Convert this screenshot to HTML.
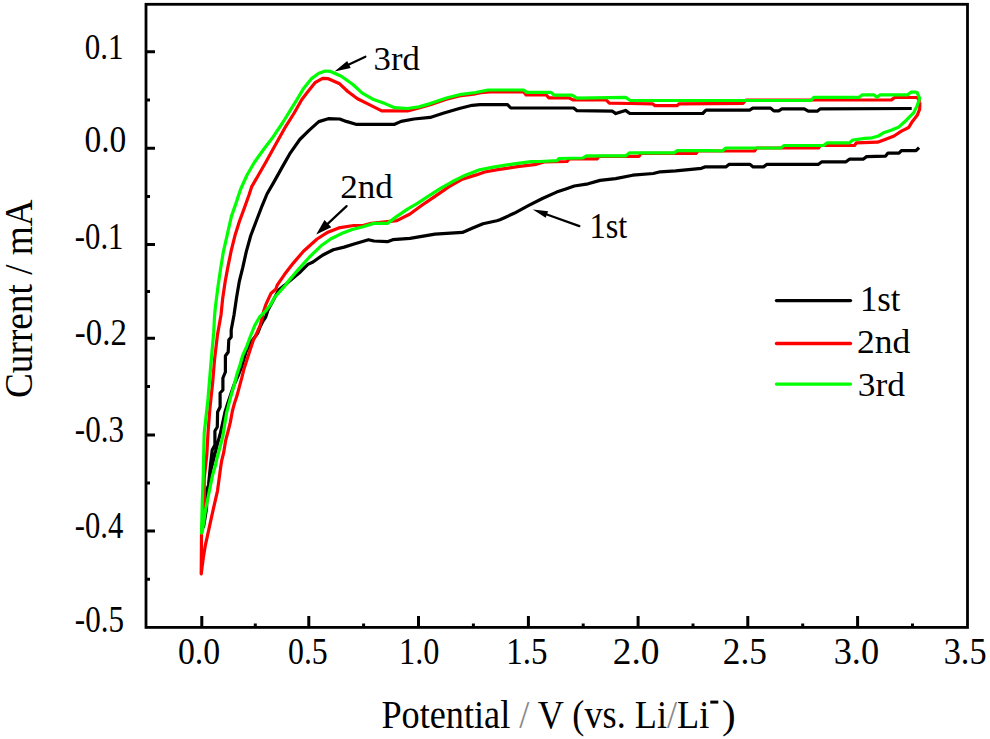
<!DOCTYPE html>
<html><head><meta charset="utf-8"><style>
html,body{margin:0;padding:0;background:#fff;width:990px;height:739px;overflow:hidden}
svg{display:block}
</style></head><body>
<svg width="990" height="739" viewBox="0 0 990 739">
<rect x="146.0" y="4.3" width="821.5" height="623.1" fill="none" stroke="#000" stroke-width="2.8"/>
<path d="M201.8,627.4V615.9 M308.8,627.4V615.9 M418.5,627.4V615.9 M528.4,627.4V615.9 M638.1,627.4V615.9 M747.8,627.4V615.9 M857.6,627.4V615.9 M146.0,51.8H155.0 M146.0,148.2H155.0 M146.0,244.6H155.0 M146.0,338.2H155.0 M146.0,435.0H155.0 M146.0,531.0H155.0 M255.3,627.4V623.4 M363.6,627.4V623.4 M473.4,627.4V623.4 M583.2,627.4V623.4 M693.0,627.4V623.4 M802.7,627.4V623.4 M912.5,627.4V623.4 M146.0,579.2H150.0 M146.0,483.0H150.0 M146.0,386.6H150.0 M146.0,291.4H150.0 M146.0,196.4H150.0 M146.0,100.0H150.0" stroke="#000" stroke-width="3" fill="none"/>
<polyline points="919.1,147.6 916.0,150.6 901.4,150.6 899.0,153.1 888.0,153.1 885.6,156.1 866.6,156.6 863.1,159.2 849.4,159.2 846.0,161.8 821.9,161.8 818.5,164.3 767.0,164.3 763.5,166.9 753.2,166.9 749.8,164.3 729.2,164.3 725.8,166.9 704.8,166.9 701.4,168.3 675.7,170.9 660.2,171.8 653.3,173.5 632.7,175.2 615.6,178.6 600.1,180.4 588.1,183.8 574.3,186.0 565.8,188.9 556.6,192.1 542.4,198.5 528.3,205.6 514.1,213.3 500.0,219.7 496.8,220.7 483.0,223.8 472.7,228.1 462.4,232.4 435.0,234.1 410.0,238.3 392.8,239.7 387.4,241.7 373.9,241.0 368.5,239.7 354.9,243.7 344.1,247.1 333.3,249.8 322.5,255.2 313.0,262.0 307.9,264.4 300.6,271.7 284.8,285.1 278.7,290.0 267.8,310.6 265.7,317.0 263.0,321.1 260.3,326.5 257.6,333.3 250.0,343.5 246.0,351.7 243.9,359.1 241.2,367.9 238.4,375.0 234.0,385.0 230.5,395.0 227.5,404.0 225.0,412.0 223.0,421.4 220.3,433.5 217.3,444.4 214.5,455.9 211.2,468.7 209.9,476.0 209.2,483.3 207.2,488.7 207.0,495.0 206.5,509.0 204.5,520.0 203.5,527.0 205.5,515.0 206.5,505.0 207.2,493.0 208.5,485.0 209.5,475.0 210.5,465.0 212.2,450.0 214.9,445.0 214.9,431.0 217.3,427.0 217.6,412.0 220.1,407.0 220.1,393.0 222.9,390.0 222.9,378.0 225.4,372.0 225.4,356.0 228.2,352.0 228.8,340.0 231.2,337.0 231.2,330.0 234.0,315.0 236.6,297.3 239.3,281.5 242.8,267.4 246.3,251.6 250.7,235.8 256.0,221.7 262.1,205.8 267.0,194.0 273.3,183.1 282.8,166.1 290.4,152.8 299.8,139.5 309.3,130.1 318.8,121.6 328.3,118.7 339.7,119.0 346.2,121.4 355.9,124.3 394.6,124.3 401.1,121.4 414.0,119.0 430.2,117.4 443.1,113.3 459.3,108.5 472.2,105.3 480.0,104.7 507.5,104.7 510.7,108.0 573.7,108.0 577.0,110.7 612.5,111.2 615.8,113.6 620.6,112.0 625.5,110.4 629.5,113.3 633.2,113.5 702.7,113.5 706.0,110.2 749.6,110.2 752.8,108.1 770.6,108.1 773.8,110.9 778.7,110.9 781.9,108.8 804.2,108.8 808.3,111.2 817.2,111.2 820.4,108.8 911.7,108.5" fill="none" stroke="#000" stroke-width="3.2" stroke-linejoin="round"/>
<polyline points="919.8,102.3 919.7,109.2 917.2,115.3 912.4,121.4 908.7,127.5 901.4,131.1 894.1,136.0 884.4,139.7 877.5,142.2 856.3,142.9 854.5,145.5 820.2,145.5 818.5,148.0 756.7,148.0 754.5,151.0 698.0,151.0 696.0,153.4 641.0,153.4 639.0,156.3 599.0,156.3 597.0,158.9 569.0,158.9 567.0,161.5 545.0,161.8 536.3,164.3 517.4,166.7 497.6,169.7 484.7,172.0 476.2,174.9 462.4,179.2 448.7,186.9 435.0,196.4 421.2,205.8 410.0,214.0 396.9,220.7 371.2,223.4 363.0,225.5 353.6,225.5 338.7,227.9 327.9,232.2 317.1,239.0 303.5,251.2 293.3,263.1 284.8,274.1 277.2,285.2 275.8,289.2 271.1,293.3 269.1,297.4 265.7,304.9 263.7,311.0 260.3,325.2 255.6,336.0 253.4,340.1 250.0,350.3 246.7,360.4 243.9,369.2 241.9,377.4 239.8,385.1 237.1,395.3 234.4,403.4 232.3,411.5 230.3,422.4 228.4,430.1 225.7,440.3 223.7,452.5 221.7,460.6 220.7,467.0 217.5,490.8 212.4,513.1 208.4,531.4 205.3,545.6 203.3,557.8 201.2,574.0 201.4,550.0 201.5,534.0 202.8,520.0 204.2,504.0 204.2,478.5 206.8,455.0 208.0,433.1 209.9,408.5 212.7,382.0 214.6,359.2 217.5,334.6 221.0,315.0 222.6,299.1 225.2,281.5 227.8,267.4 231.4,249.8 234.9,235.8 239.3,221.7 244.5,207.6 249.0,195.0 251.6,186.9 258.2,175.5 265.8,162.3 275.2,145.2 284.7,128.2 294.2,113.0 301.7,99.8 307.4,92.2 315.0,82.7 322.6,78.4 328.3,78.7 339.7,83.8 347.8,91.5 357.5,98.8 368.8,104.4 381.7,110.9 407.6,110.9 418.9,108.0 430.2,104.7 446.4,99.2 459.3,95.9 475.5,93.8 481.0,92.6 489.7,91.8 523.6,91.8 526.1,95.0 546.3,95.0 548.7,97.8 568.9,97.8 572.9,99.9 606.1,99.9 609.3,103.1 630.0,103.5 652.6,103.8 655.0,105.7 676.9,105.7 679.3,103.8 743.1,103.3 746.0,100.0 891.5,99.9 894.7,97.5 917.4,97.5 919.8,102.3" fill="none" stroke="#f00" stroke-width="3.2" stroke-linejoin="round"/>
<polyline points="916.6,91.5 919.7,98.3 917.2,105.6 913.6,112.9 906.3,120.2 899.0,126.9 891.7,129.9 884.4,132.4 878.3,136.0 872.2,137.8 864.9,138.4 852.8,140.0 849.4,142.9 827.1,142.9 823.6,145.5 784.1,145.5 780.7,148.0 725.8,148.0 722.3,151.0 710.0,150.6 677.4,150.6 673.9,152.9 629.3,152.9 625.9,155.8 586.4,155.8 582.9,158.0 558.9,158.5 557.2,160.6 540.0,161.5 531.1,161.7 512.2,164.1 493.3,167.2 479.6,169.7 465.9,174.9 452.1,181.8 440.1,188.6 428.1,196.4 417.8,203.2 407.5,209.2 397.2,216.1 387.5,223.4 373.9,223.4 363.0,226.8 352.2,229.5 341.4,233.6 330.6,239.0 321.1,245.8 309.5,257.0 298.2,269.5 287.2,282.6 286.7,283.8 281.9,289.2 275.1,296.7 270.4,304.9 265.0,311.7 259.6,317.0 254.9,325.2 250.5,336.0 246.5,347.0 242.6,355.7 239.9,365.2 237.0,374.0 234.2,385.0 231.5,394.0 229.0,403.4 226.6,412.9 225.0,422.4 222.7,436.9 220.0,447.1 217.2,457.2 215.6,465.0 212.6,475.1 209.4,490.8 205.3,511.0 202.3,531.4 201.5,533.0 202.3,500.9 203.3,474.5 203.8,450.0 204.2,433.1 208.0,399.0 210.8,364.9 213.7,332.7 214.6,315.0 215.5,306.1 218.2,285.0 220.8,267.4 223.4,251.6 227.0,235.8 231.4,216.4 235.7,204.1 240.5,189.5 246.8,175.5 254.4,162.3 263.9,149.0 273.3,136.7 282.8,122.5 290.4,110.2 298.0,97.9 303.6,88.4 311.2,78.9 318.8,73.3 325.4,71.0 330.0,71.3 341.3,76.2 352.6,84.2 362.3,93.1 373.6,99.6 385.0,103.6 394.6,107.7 407.6,108.5 418.9,106.9 430.2,103.6 446.4,98.0 459.3,94.7 475.5,92.5 488.1,90.0 523.6,90.0 526.9,92.4 551.1,92.4 554.3,95.2 572.1,95.2 577.0,98.1 625.5,97.3 630.3,100.5 810.7,100.5 813.9,97.3 859.2,97.3 862.4,94.8 873.7,94.8 877.0,97.3 880.2,94.8 907.7,94.8 910.9,92.1 916.6,92.1" fill="none" stroke="#0f0" stroke-width="3.2" stroke-linejoin="round"/>
<path d="M776.5,300.6H850.5" stroke="#000" stroke-width="3.4" stroke-linecap="round"/>
<path d="M776.5,343.5H850.5" stroke="#f00" stroke-width="3.4" stroke-linecap="round"/>
<path d="M776.5,384.1H850.5" stroke="#0f0" stroke-width="3.4" stroke-linecap="round"/>
<path d="M365.4,56.7L348.9,64.5" stroke="#000" stroke-width="2.2" stroke-linecap="round"/><path d="M334.5,71.4L347.2,60.9L350.7,68.1Z" fill="#000"/>
<path d="M346.6,206.1L327.9,223.6" stroke="#000" stroke-width="2.2" stroke-linecap="round"/><path d="M316.2,234.5L324.5,219.9L331.3,227.2Z" fill="#000"/>
<path d="M579.4,226.1L546.9,214.5" stroke="#000" stroke-width="2.2" stroke-linecap="round"/><path d="M532.8,209.4L548.1,211.2L545.7,217.8Z" fill="#000"/>
<g style="font-family:'Liberation Serif',serif" fill="#000"><text transform="translate(84.64,58.7) scale(0.8619,1.0125)" font-size="36">0.1</text><text transform="translate(84.47,152.3) scale(0.9302,1.025)" font-size="36">0.0</text><text transform="translate(74.85,248.9) scale(0.8519,1.0417)" font-size="36">-0.1</text><text transform="translate(74.79,345.1) scale(0.913,1.025)" font-size="36">-0.2</text><text transform="translate(74.83,441.9) scale(0.8655,1.0417)" font-size="36">-0.3</text><text transform="translate(74.85,538.1) scale(0.85,1.0417)" font-size="36">-0.4</text><text transform="translate(74.83,631.9) scale(0.8655,1.0417)" font-size="36">-0.5</text><text transform="translate(177.96,663.9) scale(0.9395,1.0417)" font-size="36">0.0</text><text transform="translate(288.02,663.9) scale(0.8837,1.0417)" font-size="36">0.5</text><text transform="translate(399.01,663.9) scale(0.8976,1.0417)" font-size="36">1.0</text><text transform="translate(506.15,663.9) scale(0.9171,1.0417)" font-size="36">1.5</text><text transform="translate(612.72,663.9) scale(1.0405,1.0417)" font-size="36">2.0</text><text transform="translate(722.84,663.9) scale(0.981,1.0417)" font-size="36">2.5</text><text transform="translate(833.68,663.9) scale(1.0095,1.0417)" font-size="36">3.0</text><text transform="translate(943.7,663.9) scale(0.9524,1.0417)" font-size="36">3.5</text><text transform="translate(860.01,310.7) scale(0.9641,0.9917)" font-size="36">1st</text><text transform="translate(856.93,353.1) scale(0.9865,0.9308)" font-size="36">2nd</text><text transform="translate(857.73,396.3) scale(0.9848,0.9462)" font-size="36">3rd</text><text transform="translate(373.57,69.8) scale(0.9652,0.95)" font-size="36">3rd</text><text transform="translate(340.15,198.0) scale(0.975,0.9385)" font-size="36">2nd</text><text transform="translate(589.51,237.8) scale(0.8974,0.975)" font-size="36">1st</text><text transform="translate(381.42,728.0) scale(0.884,1.0)" font-size="41">Potential <tspan fill="#8a8a8a">/</tspan> V (vs. Li<tspan fill="#8a8a8a">/</tspan>Li</text><text transform="translate(722.0,727.59) scale(1.0,0.9886)" font-size="41">)</text><rect x="710.3" y="700.6" width="8" height="3" fill="#000"/><text transform="translate(31.8,398) rotate(-90) scale(0.898,0.9786)" font-size="41.5">Current / mA</text></g>
</svg>
</body></html>
